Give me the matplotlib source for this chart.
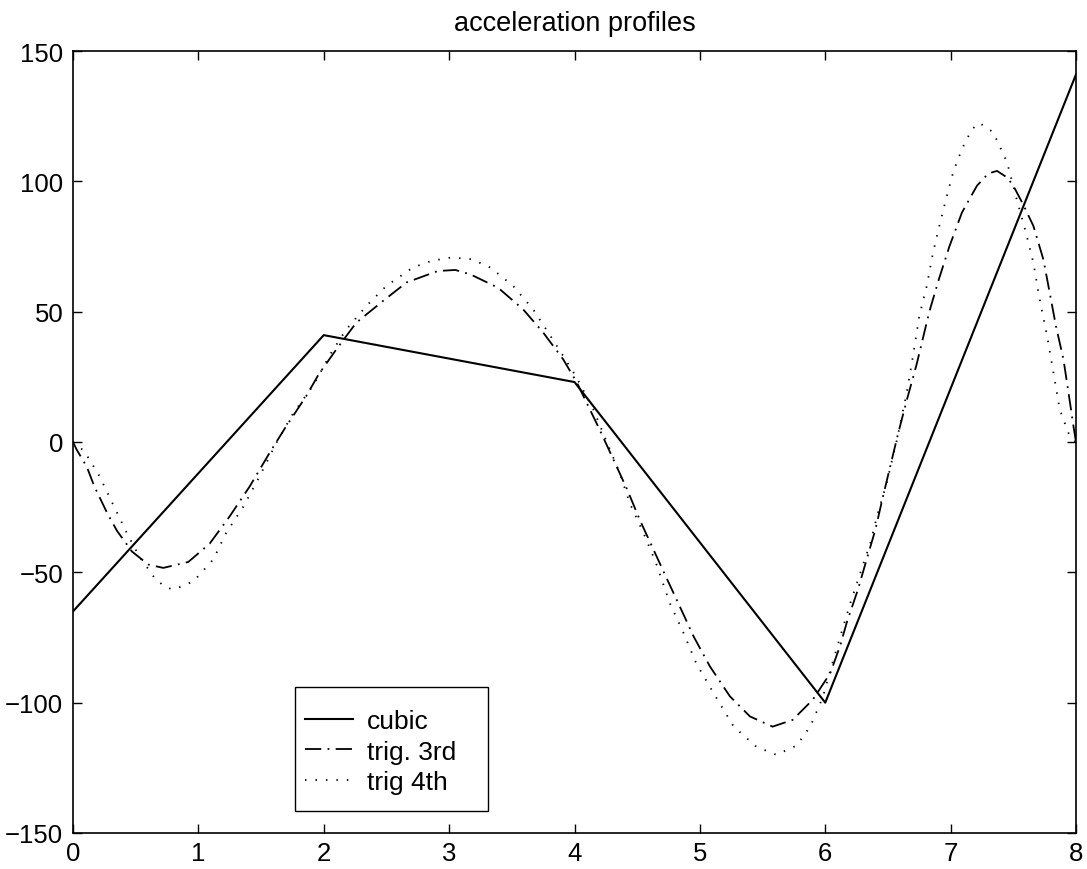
import matplotlib
matplotlib.use("Agg")
import matplotlib.pyplot as plt
from matplotlib.patches import Rectangle

plt.rcParams['font.family'] = ['Liberation Sans', 'DejaVu Sans']

# ---- data ----
cubic_x = [0, 2, 4, 6, 8]
cubic_y = [-65, 41, 23, -100, 141]

trig3_x = [0, 0.03, 0.11, 0.17, 0.27, 0.35, 0.47, 0.60, 0.72, 0.92, 1.09, 1.25,
           1.41, 1.57, 1.70, 1.86, 1.96, 2.10, 2.26, 2.47, 2.66, 2.91, 3.05,
           3.17, 3.39, 3.59, 3.75, 3.91, 4.02, 4.20, 4.31, 4.42, 4.52, 4.63,
           4.74, 4.84, 4.95, 5.08, 5.24, 5.40, 5.58, 5.74, 5.90, 6.04, 6.12,
           6.17, 6.26, 6.33, 6.40, 6.46, 6.52, 6.58, 6.65, 6.73, 6.78, 6.83,
           6.91, 6.99, 7.09, 7.21, 7.30, 7.37, 7.45, 7.50, 7.58, 7.66, 7.74,
           7.79, 7.84, 7.90, 7.94, 7.98, 8.0]
trig3_y = [0, -3, -9.5, -17, -27, -34, -42, -47, -48.3, -46, -39, -28.5,
           -17, -4, 6, 17.6, 26, 35.5, 45.8, 54, 61.2, 65.6, 66,
           64.3, 59.2, 50.9, 42, 31.7, 22.7, 4.8, -6.7, -18.2, -29.8, -41.3,
           -52.8, -63.1, -74.6, -86.1, -97.6, -105.3, -109.2, -106.6, -98.9, -88.7, -78,
           -69.5, -56.7, -45.1, -33.6, -21, -9, 3, 16, 30, 40, 50,
           63, 75, 88, 98.3, 103, 104, 101.5, 98.3, 91, 82.9, 70,
           57.3, 44.5, 31.7, 19, 6, 0]

trig4_x = [0, 0.09, 0.21, 0.32, 0.43, 0.53, 0.66, 0.75, 0.81, 0.96, 1.12, 1.22,
           1.36, 1.49, 1.62, 1.75, 1.92, 2.06, 2.18, 2.34, 2.50, 2.71, 2.86,
           3.02, 3.18, 3.33, 3.51, 3.67, 3.80, 3.91, 4.01, 4.15, 4.26, 4.36,
           4.44, 4.55, 4.65, 4.76, 4.87, 4.97, 5.11, 5.27, 5.45, 5.61, 5.77,
           5.88, 5.98, 6.05, 6.12, 6.20, 6.28, 6.36, 6.42, 6.49, 6.57, 6.65,
           6.70, 6.75, 6.81, 6.86, 6.91, 6.97, 7.02, 7.09, 7.17, 7.23, 7.34,
           7.45, 7.52, 7.60, 7.66, 7.71, 7.77, 7.82, 7.87, 7.95, 8.0]
trig4_y = [0, -3.5, -13, -24, -35, -44, -52.8, -56, -56.5, -53.5, -45, -35,
           -24.7, -13, -0.5, 10.5, 22, 34.3, 43.2, 52.2, 59.9, 66.9, 69.5,
           70.8, 70.1, 66.9, 59.9, 50.9, 41.3, 33, 25.3, 12.5, -0.3, -11.8,
           -23.4, -34.9, -46.4, -61.8, -73.3, -84.8, -96.4, -109.2, -116.9, -120, -116.5,
           -109.2, -98, -86, -74.6, -61.8, -50.2, -38.7, -27.2, -15.7, 0.5, 18.9,
           33, 48.3, 59.9, 72.7, 82.9, 94.4, 103.4, 112.4, 120, 122.4, 118.8,
           107.3, 94.4, 80.4, 68.8, 54.7, 40.6, 26.6, 12.5, 2.2, 0]

labels = ['cubic', 'trig. 3rd', 'trig 4th']
title = 'acceleration profiles'
xticks = [0, 1, 2, 3, 4, 5, 6, 7, 8]
yticks = [-150, -100, -50, 0, 50, 100, 150]

# ---- figure ----
W, H = 1087, 870
fig = plt.figure(figsize=(W / 100, H / 100), dpi=100)
ax = fig.add_axes([73 / W, 1 - 834 / H, (1076 - 73) / W, (834 - 52) / H])

ax.plot(cubic_x, cubic_y, color='black', lw=1.5, linestyle='-', label=labels[0])
ax.plot(trig3_x, trig3_y, color='black', lw=1.3, linestyle=(0, (9, 3.5, 1, 3.5)),
        label=labels[1])
ax.plot(trig4_x, trig4_y, color='black', lw=1.3, linestyle=(0, (0.8, 5.0)),
        label=labels[2])

ax.set_xlim(0, 8)
ax.set_ylim(-150, 150)
ax.set_xticks(xticks)
ax.set_yticks(yticks)
ax.tick_params(direction='in', length=6.5, width=1.0, top=True, right=True,
               labelsize=18.5, pad=6)
ax.tick_params(axis='y', pad=7)
for s in ax.spines.values():
    s.set_linewidth(1.2)
ax.set_title(title, fontsize=19.5, pad=15)

leg = ax.legend(loc='upper left', bbox_to_anchor=(305 / W, 1 - 710 / H),
                bbox_transform=fig.transFigure, frameon=False, fontsize=19,
                handlelength=1.8, handletextpad=0.55, labelspacing=0.25,
                borderpad=0.0, borderaxespad=0.0)
ax.add_patch(Rectangle((295 / W, 1 - 812 / H), (488 - 295) / W, (812 - 688) / H,
                       transform=fig.transFigure, fill=False, edgecolor='black',
                       lw=1.0, zorder=5))

fig.savefig('out.png', dpi=100)
